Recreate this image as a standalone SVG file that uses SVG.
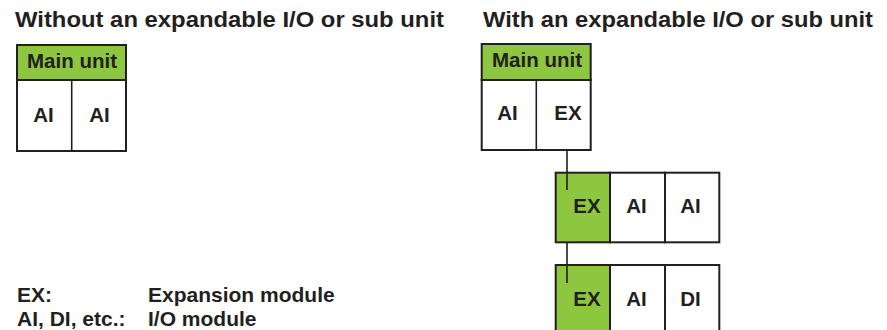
<svg xmlns="http://www.w3.org/2000/svg" width="887" height="330" viewBox="0 0 887 330">
<style>
text{font-family:"Liberation Sans",Arial,sans-serif;font-weight:bold;fill:#231f20}
.t{font-size:21.5px}
.l{font-size:21px}
.b{font-size:20.5px;text-anchor:middle}
.g{fill:#8dc63f;stroke:#231f20;stroke-width:2}
.w{fill:#fff;stroke:#231f20;stroke-width:2}
.c{stroke:#231f20;stroke-width:1.6;fill:none}
</style>
<rect width="887" height="330" fill="#fff"/>
<text class="t" x="15" y="27" textLength="429" lengthAdjust="spacingAndGlyphs">Without an expandable I/O or sub unit</text>
<text class="t" x="483" y="27" textLength="390" lengthAdjust="spacingAndGlyphs">With an expandable I/O or sub unit</text>
<g id="main-left">
<rect class="g" x="17" y="45" width="109" height="35"/>
<rect class="w" x="17" y="80" width="109" height="71"/>
<line class="c" x1="71.7" y1="80" x2="71.7" y2="151" stroke-width="2"/>
<text class="b" x="72" y="68">Main unit</text>
<text class="b" x="43.5" y="122">AI</text>
<text class="b" x="99.5" y="122">AI</text>
</g>
<g id="connectors">
<line class="c" x1="567" y1="150" x2="567" y2="190"/>
<line class="c" x1="567" y1="242" x2="567" y2="283"/>
</g>
<g id="main-right">
<rect class="g" x="481.7" y="44" width="109" height="36"/>
<rect class="w" x="481.7" y="80" width="109" height="70"/>
<line class="c" x1="536.3" y1="80" x2="536.3" y2="150" stroke-width="2"/>
<text class="b" x="537" y="67">Main unit</text>
<text class="b" x="507.5" y="120">AI</text>
<text class="b" x="568" y="120">EX</text>
</g>
<g id="sub-1">
<rect class="g" x="555.7" y="172.7" width="54.3" height="69.6"/>
<rect class="w" x="610" y="172.7" width="55" height="69.6"/>
<rect class="w" x="665" y="172.7" width="54.3" height="69.6"/>
<line class="c" x1="567" y1="172.7" x2="567" y2="190"/>
<text class="b" x="587" y="213">EX</text>
<text class="b" x="636.5" y="213">AI</text>
<text class="b" x="690.5" y="213">AI</text>
</g>
<g id="sub-2">
<rect class="g" x="555.7" y="265" width="54.3" height="80"/>
<rect class="w" x="610" y="265" width="55" height="80"/>
<rect class="w" x="665" y="265" width="54.3" height="80"/>
<line class="c" x1="567" y1="265" x2="567" y2="283"/>
<text class="b" x="587" y="306">EX</text>
<text class="b" x="636.5" y="306">AI</text>
<text class="b" x="690.5" y="306">DI</text>
</g>
<g id="legend">
<text class="l" x="17" y="302">EX:</text>
<text class="l" x="148" y="302">Expansion module</text>
<text class="l" x="17" y="326">AI, DI, etc.:</text>
<text class="l" x="148" y="326">I/O module</text>
</g>
</svg>
